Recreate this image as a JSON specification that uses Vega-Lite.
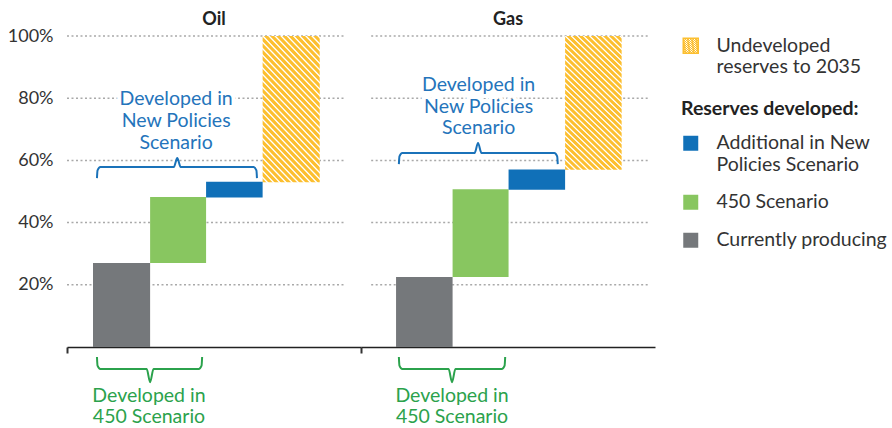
{
  "$schema": "https://vega.github.io/schema/vega-lite/v6.json",
  "padding": {"left": 7, "top": 11, "right": 0, "bottom": 0},
  "background": "white",
  "bounds": "flush",
  "config": {
    "view": {"stroke": null},
    "font": "Lato",
    "legend": {
      "orient": "right",
      "offset": 26,
      "symbolType": "square",
      "symbolSize": 225,
      "labelFont": "Lato",
      "labelFontSize": 19.5,
      "labelColor": "#333333",
      "labelOffset": 16,
      "labelLimit": 400,
      "titleFont": "Lato",
      "titleFontSize": 19.5,
      "titleFontWeight": "bold",
      "titleColor": "#222222",
      "titlePadding": 14,
      "rowPadding": 17
    }
  },
  "data": {
    "values": [
      {"fuel": "Oil", "kind": "grid", "x": 0, "x2": 4.92, "y": 20},
      {"fuel": "Oil", "kind": "grid", "x": 0, "x2": 4.92, "y": 40},
      {"fuel": "Oil", "kind": "grid", "x": 0, "x2": 4.92, "y": 60},
      {"fuel": "Oil", "kind": "grid", "x": 0, "x2": 4.92, "y": 80},
      {"fuel": "Oil", "kind": "grid", "x": 0, "x2": 4.92, "y": 100},
      {"fuel": "Gas", "kind": "grid", "x": 0.18, "x2": 5.11, "y": 20},
      {"fuel": "Gas", "kind": "grid", "x": 0.18, "x2": 5.11, "y": 40},
      {"fuel": "Gas", "kind": "grid", "x": 0.18, "x2": 5.11, "y": 60},
      {"fuel": "Gas", "kind": "grid", "x": 0.18, "x2": 5.11, "y": 80},
      {"fuel": "Gas", "kind": "grid", "x": 0.18, "x2": 5.11, "y": 100},

      {"fuel": "Oil", "kind": "bar", "cat": "Currently producing", "x": 0.46, "x2": 1.47, "y": 0, "y2": 27},
      {"fuel": "Oil", "kind": "bar", "cat": "450 Scenario", "x": 1.47, "x2": 2.46, "y": 27, "y2": 48.2},
      {"fuel": "Oil", "kind": "bar", "cat": "Additional in New|Policies Scenario", "x": 2.46, "x2": 3.46, "y": 48.1, "y2": 53.1},
      {"fuel": "Oil", "kind": "undev", "cat": "Undeveloped|reserves to 2035", "x": 3.46, "x2": 4.47, "y": 53, "y2": 100},
      {"fuel": "Gas", "kind": "bar", "cat": "Currently producing", "x": 0.62, "x2": 1.62, "y": 0, "y2": 22.5},
      {"fuel": "Gas", "kind": "bar", "cat": "450 Scenario", "x": 1.62, "x2": 2.61, "y": 22.5, "y2": 50.7},
      {"fuel": "Gas", "kind": "bar", "cat": "Additional in New|Policies Scenario", "x": 2.61, "x2": 3.61, "y": 50.6, "y2": 57.1},
      {"fuel": "Gas", "kind": "undev", "cat": "Undeveloped|reserves to 2035", "x": 3.61, "x2": 4.61, "y": 57, "y2": 100},

      {"fuel": "Oil", "kind": "bracket", "group": "np", "ord": 1, "x": 0.53, "y": 54.3},
      {"fuel": "Oil", "kind": "bracket", "group": "np", "ord": 2, "x": 0.54, "y": 56.8},
      {"fuel": "Oil", "kind": "bracket", "group": "np", "ord": 3, "x": 0.59, "y": 57.9},
      {"fuel": "Oil", "kind": "bracket", "group": "np", "ord": 4, "x": 1.89, "y": 57.9},
      {"fuel": "Oil", "kind": "bracket", "group": "np", "ord": 5, "x": 1.95, "y": 60.8},
      {"fuel": "Oil", "kind": "bracket", "group": "np", "ord": 6, "x": 2.01, "y": 57.9},
      {"fuel": "Oil", "kind": "bracket", "group": "np", "ord": 7, "x": 3.30, "y": 57.9},
      {"fuel": "Oil", "kind": "bracket", "group": "np", "ord": 8, "x": 3.35, "y": 56.8},
      {"fuel": "Oil", "kind": "bracket", "group": "np", "ord": 9, "x": 3.36, "y": 54.3},

      {"fuel": "Oil", "kind": "bracket", "group": "450", "ord": 1, "x": 0.53, "y": -3.2},
      {"fuel": "Oil", "kind": "bracket", "group": "450", "ord": 2, "x": 0.54, "y": -6.0},
      {"fuel": "Oil", "kind": "bracket", "group": "450", "ord": 3, "x": 0.59, "y": -7.1},
      {"fuel": "Oil", "kind": "bracket", "group": "450", "ord": 4, "x": 1.41, "y": -7.1},
      {"fuel": "Oil", "kind": "bracket", "group": "450", "ord": 5, "x": 1.47, "y": -11.3},
      {"fuel": "Oil", "kind": "bracket", "group": "450", "ord": 6, "x": 1.53, "y": -7.1},
      {"fuel": "Oil", "kind": "bracket", "group": "450", "ord": 7, "x": 2.33, "y": -7.1},
      {"fuel": "Oil", "kind": "bracket", "group": "450", "ord": 8, "x": 2.38, "y": -6.0},
      {"fuel": "Oil", "kind": "bracket", "group": "450", "ord": 9, "x": 2.39, "y": -3.2},

      {"fuel": "Gas", "kind": "bracket", "group": "np", "ord": 1, "x": 0.67, "y": 58.8},
      {"fuel": "Gas", "kind": "bracket", "group": "np", "ord": 2, "x": 0.68, "y": 61.3},
      {"fuel": "Gas", "kind": "bracket", "group": "np", "ord": 3, "x": 0.73, "y": 62.4},
      {"fuel": "Gas", "kind": "bracket", "group": "np", "ord": 4, "x": 2.01, "y": 62.4},
      {"fuel": "Gas", "kind": "bracket", "group": "np", "ord": 5, "x": 2.07, "y": 65.6},
      {"fuel": "Gas", "kind": "bracket", "group": "np", "ord": 6, "x": 2.13, "y": 62.4},
      {"fuel": "Gas", "kind": "bracket", "group": "np", "ord": 7, "x": 3.42, "y": 62.4},
      {"fuel": "Gas", "kind": "bracket", "group": "np", "ord": 8, "x": 3.47, "y": 61.3},
      {"fuel": "Gas", "kind": "bracket", "group": "np", "ord": 9, "x": 3.48, "y": 58.8},

      {"fuel": "Gas", "kind": "bracket", "group": "450", "ord": 1, "x": 0.67, "y": -3.2},
      {"fuel": "Gas", "kind": "bracket", "group": "450", "ord": 2, "x": 0.68, "y": -6.0},
      {"fuel": "Gas", "kind": "bracket", "group": "450", "ord": 3, "x": 0.73, "y": -7.1},
      {"fuel": "Gas", "kind": "bracket", "group": "450", "ord": 4, "x": 1.55, "y": -7.1},
      {"fuel": "Gas", "kind": "bracket", "group": "450", "ord": 5, "x": 1.61, "y": -11.3},
      {"fuel": "Gas", "kind": "bracket", "group": "450", "ord": 6, "x": 1.67, "y": -7.1},
      {"fuel": "Gas", "kind": "bracket", "group": "450", "ord": 7, "x": 2.49, "y": -7.1},
      {"fuel": "Gas", "kind": "bracket", "group": "450", "ord": 8, "x": 2.54, "y": -6.0},
      {"fuel": "Gas", "kind": "bracket", "group": "450", "ord": 9, "x": 2.55, "y": -3.2},

      {"fuel": "Oil", "kind": "label", "group": "np", "x": 1.93, "y": 79.6, "text": "Developed in"},
      {"fuel": "Oil", "kind": "label", "group": "np", "x": 1.93, "y": 72.6, "text": "New Policies"},
      {"fuel": "Oil", "kind": "label", "group": "np", "x": 1.93, "y": 65.6, "text": "Scenario"},
      {"fuel": "Gas", "kind": "label", "group": "np", "x": 2.08, "y": 84.2, "text": "Developed in"},
      {"fuel": "Gas", "kind": "label", "group": "np", "x": 2.08, "y": 77.3, "text": "New Policies"},
      {"fuel": "Gas", "kind": "label", "group": "np", "x": 2.08, "y": 70.4, "text": "Scenario"},
      {"fuel": "Oil", "kind": "label", "group": "450", "x": 1.45, "y": -15.6, "text": "Developed in"},
      {"fuel": "Oil", "kind": "label", "group": "450", "x": 1.45, "y": -22.5, "text": "450 Scenario"},
      {"fuel": "Gas", "kind": "label", "group": "450", "x": 1.61, "y": -15.6, "text": "Developed in"},
      {"fuel": "Gas", "kind": "label", "group": "450", "x": 1.61, "y": -22.5, "text": "450 Scenario"}
    ]
  },
  "facet": {
    "column": {
      "field": "fuel",
      "type": "nominal",
      "sort": ["Oil", "Gas"],
      "title": null,
      "header": {
        "labelFont": "Lato",
        "labelFontSize": 18,
        "labelFontWeight": "bold",
        "labelColor": "#222222",
        "labelPadding": 7
      }
    }
  },
  "spacing": 0,
  "spec": {
    "width": 294,
    "height": 311,
    "layer": [
      {
        "transform": [{"filter": "datum.kind === 'grid'"}],
        "mark": {"type": "rule", "color": "#a9a9a9", "strokeWidth": 1.5, "strokeDash": [2, 2.5]},
        "encoding": {
          "x": {
            "field": "x", "type": "quantitative",
            "scale": {"domain": [0, 5.2], "nice": false, "zero": false},
            "axis": {"title": null, "values": [0], "labels": false, "grid": false, "ticks": true, "tickSize": 6, "tickWidth": 2, "tickColor": "#333333", "domainColor": "#222222", "domainWidth": 1.5}
          },
          "x2": {"field": "x2"},
          "y": {
            "field": "y", "type": "quantitative",
            "scale": {"domain": [0, 100], "nice": false},
            "axis": {"title": null, "values": [20, 40, 60, 80, 100], "labelExpr": "datum.value + '%'", "grid": false, "domain": false, "ticks": false, "labelPadding": 14, "labelFont": "Lato", "labelFontSize": 18, "labelColor": "#333333"}
          }
        }
      },
      {
        "transform": [{"filter": "datum.kind === 'undev'"}],
        "mark": {
          "type": "bar", "filled": false, "strokeWidth": 0,
          "fill": {
            "gradient": "linear", "x1": 0, "y1": 1, "x2": 0.4927, "y2": -0.2071,
            "stops": [
              {"offset": 0, "color": "#fcbf30"}, {"offset": 0.0156, "color": "#fcbf30"}, {"offset": 0.0219, "color": "#ffffff"}, {"offset": 0.025, "color": "#ffffff"},
              {"offset": 0.0313, "color": "#fcbf30"}, {"offset": 0.0469, "color": "#fcbf30"}, {"offset": 0.0531, "color": "#ffffff"}, {"offset": 0.0563, "color": "#ffffff"},
              {"offset": 0.0625, "color": "#fcbf30"}, {"offset": 0.0781, "color": "#fcbf30"}, {"offset": 0.0844, "color": "#ffffff"}, {"offset": 0.0875, "color": "#ffffff"},
              {"offset": 0.0938, "color": "#fcbf30"}, {"offset": 0.1094, "color": "#fcbf30"}, {"offset": 0.1156, "color": "#ffffff"}, {"offset": 0.1188, "color": "#ffffff"},
              {"offset": 0.125, "color": "#fcbf30"}, {"offset": 0.1406, "color": "#fcbf30"}, {"offset": 0.1469, "color": "#ffffff"}, {"offset": 0.15, "color": "#ffffff"},
              {"offset": 0.1563, "color": "#fcbf30"}, {"offset": 0.1719, "color": "#fcbf30"}, {"offset": 0.1781, "color": "#ffffff"}, {"offset": 0.1813, "color": "#ffffff"},
              {"offset": 0.1875, "color": "#fcbf30"}, {"offset": 0.2031, "color": "#fcbf30"}, {"offset": 0.2094, "color": "#ffffff"}, {"offset": 0.2125, "color": "#ffffff"},
              {"offset": 0.2188, "color": "#fcbf30"}, {"offset": 0.2344, "color": "#fcbf30"}, {"offset": 0.2406, "color": "#ffffff"}, {"offset": 0.2438, "color": "#ffffff"},
              {"offset": 0.25, "color": "#fcbf30"}, {"offset": 0.2656, "color": "#fcbf30"}, {"offset": 0.2719, "color": "#ffffff"}, {"offset": 0.275, "color": "#ffffff"},
              {"offset": 0.2813, "color": "#fcbf30"}, {"offset": 0.2969, "color": "#fcbf30"}, {"offset": 0.3031, "color": "#ffffff"}, {"offset": 0.3063, "color": "#ffffff"},
              {"offset": 0.3125, "color": "#fcbf30"}, {"offset": 0.3281, "color": "#fcbf30"}, {"offset": 0.3344, "color": "#ffffff"}, {"offset": 0.3375, "color": "#ffffff"},
              {"offset": 0.3438, "color": "#fcbf30"}, {"offset": 0.3594, "color": "#fcbf30"}, {"offset": 0.3656, "color": "#ffffff"}, {"offset": 0.3688, "color": "#ffffff"},
              {"offset": 0.375, "color": "#fcbf30"}, {"offset": 0.3906, "color": "#fcbf30"}, {"offset": 0.3969, "color": "#ffffff"}, {"offset": 0.4, "color": "#ffffff"},
              {"offset": 0.4063, "color": "#fcbf30"}, {"offset": 0.4219, "color": "#fcbf30"}, {"offset": 0.4281, "color": "#ffffff"}, {"offset": 0.4313, "color": "#ffffff"},
              {"offset": 0.4375, "color": "#fcbf30"}, {"offset": 0.4531, "color": "#fcbf30"}, {"offset": 0.4594, "color": "#ffffff"}, {"offset": 0.4625, "color": "#ffffff"},
              {"offset": 0.4688, "color": "#fcbf30"}, {"offset": 0.4844, "color": "#fcbf30"}, {"offset": 0.4906, "color": "#ffffff"}, {"offset": 0.4938, "color": "#ffffff"},
              {"offset": 0.5, "color": "#fcbf30"}, {"offset": 0.5156, "color": "#fcbf30"}, {"offset": 0.5219, "color": "#ffffff"}, {"offset": 0.525, "color": "#ffffff"},
              {"offset": 0.5313, "color": "#fcbf30"}, {"offset": 0.5469, "color": "#fcbf30"}, {"offset": 0.5531, "color": "#ffffff"}, {"offset": 0.5563, "color": "#ffffff"},
              {"offset": 0.5625, "color": "#fcbf30"}, {"offset": 0.5781, "color": "#fcbf30"}, {"offset": 0.5844, "color": "#ffffff"}, {"offset": 0.5875, "color": "#ffffff"},
              {"offset": 0.5938, "color": "#fcbf30"}, {"offset": 0.6094, "color": "#fcbf30"}, {"offset": 0.6156, "color": "#ffffff"}, {"offset": 0.6188, "color": "#ffffff"},
              {"offset": 0.625, "color": "#fcbf30"}, {"offset": 0.6406, "color": "#fcbf30"}, {"offset": 0.6469, "color": "#ffffff"}, {"offset": 0.65, "color": "#ffffff"},
              {"offset": 0.6563, "color": "#fcbf30"}, {"offset": 0.6719, "color": "#fcbf30"}, {"offset": 0.6781, "color": "#ffffff"}, {"offset": 0.6813, "color": "#ffffff"},
              {"offset": 0.6875, "color": "#fcbf30"}, {"offset": 0.7031, "color": "#fcbf30"}, {"offset": 0.7094, "color": "#ffffff"}, {"offset": 0.7125, "color": "#ffffff"},
              {"offset": 0.7188, "color": "#fcbf30"}, {"offset": 0.7344, "color": "#fcbf30"}, {"offset": 0.7406, "color": "#ffffff"}, {"offset": 0.7438, "color": "#ffffff"},
              {"offset": 0.75, "color": "#fcbf30"}, {"offset": 0.7656, "color": "#fcbf30"}, {"offset": 0.7719, "color": "#ffffff"}, {"offset": 0.775, "color": "#ffffff"},
              {"offset": 0.7813, "color": "#fcbf30"}, {"offset": 0.7969, "color": "#fcbf30"}, {"offset": 0.8031, "color": "#ffffff"}, {"offset": 0.8063, "color": "#ffffff"},
              {"offset": 0.8125, "color": "#fcbf30"}, {"offset": 0.8281, "color": "#fcbf30"}, {"offset": 0.8344, "color": "#ffffff"}, {"offset": 0.8375, "color": "#ffffff"},
              {"offset": 0.8438, "color": "#fcbf30"}, {"offset": 0.8594, "color": "#fcbf30"}, {"offset": 0.8656, "color": "#ffffff"}, {"offset": 0.8688, "color": "#ffffff"},
              {"offset": 0.875, "color": "#fcbf30"}, {"offset": 0.8906, "color": "#fcbf30"}, {"offset": 0.8969, "color": "#ffffff"}, {"offset": 0.9, "color": "#ffffff"},
              {"offset": 0.9063, "color": "#fcbf30"}, {"offset": 0.9219, "color": "#fcbf30"}, {"offset": 0.9281, "color": "#ffffff"}, {"offset": 0.9313, "color": "#ffffff"},
              {"offset": 0.9375, "color": "#fcbf30"}, {"offset": 0.9531, "color": "#fcbf30"}, {"offset": 0.9594, "color": "#ffffff"}, {"offset": 0.9625, "color": "#ffffff"},
              {"offset": 0.9688, "color": "#fcbf30"}, {"offset": 0.9844, "color": "#fcbf30"}, {"offset": 0.9906, "color": "#ffffff"}, {"offset": 0.9938, "color": "#ffffff"},
              {"offset": 1, "color": "#fcbf30"}
            ]
          }
        },
        "encoding": {
          "x": {"field": "x", "type": "quantitative"},
          "x2": {"field": "x2"},
          "y": {"field": "y", "type": "quantitative"},
          "y2": {"field": "y2"},
          "color": {
            "field": "cat", "type": "nominal",
            "scale": {"domain": ["Undeveloped|reserves to 2035"], "range": ["#fcbf30"]},
            "legend": {
              "title": null,
              "labelExpr": "split(datum.label, '|')",
              "labelBaseline": "middle",
              "encode": {
                "labels": {"update": {"lineHeight": {"value": 21}}},
                "symbols": {
                  "update": {
                    "strokeWidth": {"value": 0},
                    "fill": {"value": {
                      "gradient": "linear", "x1": 0, "y1": 1, "x2": 1, "y2": 0,
                      "stops": [
                        {"offset": 0, "color": "#fcbf30"}, {"offset": 0.125, "color": "#fcbf30"}, {"offset": 0.175, "color": "#ffffff"}, {"offset": 0.2, "color": "#ffffff"},
                        {"offset": 0.25, "color": "#fcbf30"}, {"offset": 0.375, "color": "#fcbf30"}, {"offset": 0.425, "color": "#ffffff"}, {"offset": 0.45, "color": "#ffffff"},
                        {"offset": 0.5, "color": "#fcbf30"}, {"offset": 0.625, "color": "#fcbf30"}, {"offset": 0.675, "color": "#ffffff"}, {"offset": 0.7, "color": "#ffffff"},
                        {"offset": 0.75, "color": "#fcbf30"}, {"offset": 0.875, "color": "#fcbf30"}, {"offset": 0.925, "color": "#ffffff"}, {"offset": 0.95, "color": "#ffffff"},
                        {"offset": 1, "color": "#fcbf30"}
                      ]
                    }}
                  }
                }
              }
            }
          }
        }
      },
      {
        "transform": [{"filter": "datum.kind === 'bar'"}],
        "mark": {"type": "bar"},
        "encoding": {
          "x": {"field": "x", "type": "quantitative"},
          "x2": {"field": "x2"},
          "y": {"field": "y", "type": "quantitative"},
          "y2": {"field": "y2"},
          "fill": {
            "field": "cat", "type": "nominal",
            "scale": {"domain": ["Additional in New|Policies Scenario", "450 Scenario", "Currently producing"], "range": ["#1070b8", "#88c660", "#75787b"]},
            "legend": {
              "title": ["", "Reserves developed:"],
              "titleLineHeight": 15,
              "labelExpr": "split(datum.label, '|')",
              "labelBaseline": "middle",
              "encode": {"labels": {"update": {"lineHeight": {"value": 21.5}}}}
            }
          }
        }
      },
      {
        "transform": [{"filter": "datum.kind === 'bracket' && datum.group === 'np'"}],
        "mark": {"type": "line", "color": "#1a72b9", "strokeWidth": 2, "interpolate": "monotone"},
        "encoding": {
          "x": {"field": "x", "type": "quantitative"},
          "y": {"field": "y", "type": "quantitative"},
          "detail": {"field": "fuel"},
          "order": {"field": "ord", "type": "quantitative"}
        }
      },
      {
        "transform": [{"filter": "datum.kind === 'bracket' && datum.group === '450'"}],
        "mark": {"type": "line", "color": "#2ba24c", "strokeWidth": 2, "interpolate": "monotone"},
        "encoding": {
          "x": {"field": "x", "type": "quantitative"},
          "y": {"field": "y", "type": "quantitative"},
          "detail": {"field": "fuel"},
          "order": {"field": "ord", "type": "quantitative"}
        }
      },
      {
        "transform": [{"filter": "datum.kind === 'label' && datum.group === 'np'"}],
        "mark": {"type": "text", "font": "Lato", "fontSize": 19.5, "color": "white", "stroke": "white", "strokeWidth": 8, "align": "center", "baseline": "middle"},
        "encoding": {
          "x": {"field": "x", "type": "quantitative"},
          "y": {"field": "y", "type": "quantitative"},
          "text": {"field": "text", "type": "nominal"}
        }
      },
      {
        "transform": [{"filter": "datum.kind === 'label' && datum.group === 'np'"}],
        "mark": {"type": "text", "font": "Lato", "fontSize": 19.5, "color": "#2474bb", "align": "center", "baseline": "middle"},
        "encoding": {
          "x": {"field": "x", "type": "quantitative"},
          "y": {"field": "y", "type": "quantitative"},
          "text": {"field": "text", "type": "nominal"}
        }
      },
      {
        "transform": [{"filter": "datum.kind === 'label' && datum.group === '450'"}],
        "mark": {"type": "text", "font": "Lato", "fontSize": 19.5, "color": "#2ba24c", "align": "center", "baseline": "middle"},
        "encoding": {
          "x": {"field": "x", "type": "quantitative"},
          "y": {"field": "y", "type": "quantitative"},
          "text": {"field": "text", "type": "nominal"}
        }
      }
    ]
  }
}
